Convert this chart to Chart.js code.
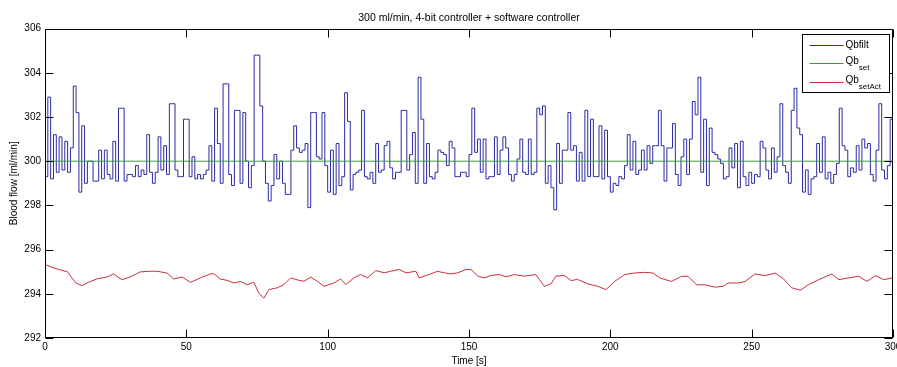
<!DOCTYPE html>
<html>
<head>
<meta charset="utf-8">
<script src="https://cdn.jsdelivr.net/npm/chart.js@4.4.1/dist/chart.umd.min.js"></script>
<style>
  html, body { margin: 0; padding: 0; background: #fff; overflow: hidden; }
</style>
</head>
<body>
<canvas id="canvas" width="908" height="367"></canvas>
<script>
  // Qbfilt, one sample per second (0..300 s)
  var qbfilt = [
    299.3, 302.9, 299.2, 301.2, 299.5, 301.1, 299.6, 300.9, 299.5, 300.6,
    303.4, 302.2, 298.6, 301.6, 299.0, 300.0, 300.0, 299.1, 299.1, 300.5,
    299.2, 300.5, 299.4, 299.2, 300.9, 299.1, 302.4, 302.4, 299.1, 299.4,
    299.4, 299.3, 299.8, 299.3, 299.6, 299.4, 301.2, 299.5, 299.0, 299.5,
    301.1, 299.6, 300.7, 299.4, 302.6, 302.6, 299.6, 299.3, 299.3, 301.9,
    301.9, 299.3, 300.2, 299.2, 299.4, 299.2, 299.4, 299.6, 300.7, 299.1,
    302.4, 300.8, 299.0, 303.5, 303.5, 299.4, 298.9, 302.3, 302.3, 299.0,
    302.2, 300.0, 298.8, 299.8, 304.8, 304.8, 302.5, 300.0, 299.0, 298.2,
    298.9, 300.3, 299.2, 300.0, 299.0, 298.5, 298.5, 300.5, 301.6, 300.6,
    300.4, 300.5, 300.8, 297.9, 302.2, 302.2, 300.2, 300.1, 302.2, 299.8,
    298.6, 300.5, 298.5, 300.8, 298.9, 299.3, 303.1, 301.8, 298.7, 299.4,
    299.5, 299.6, 302.3, 299.3, 299.2, 299.5, 299.0, 300.8, 299.5, 299.6,
    300.7, 300.9, 299.7, 299.2, 299.5, 299.5, 302.3, 302.3, 299.6, 300.3,
    301.3, 299.0, 303.8, 301.9, 299.0, 300.8, 299.3, 299.2, 299.5, 300.5,
    300.4, 300.3, 299.8, 300.9, 300.6, 299.3, 299.3, 299.5, 299.5, 299.3,
    300.3, 302.4, 300.4, 301.0, 299.5, 301.0, 299.2, 299.3, 299.3, 301.1,
    299.4, 300.5, 301.1, 300.6, 299.4, 299.1, 299.4, 300.1, 301.0, 299.5,
    299.4, 301.0, 299.4, 299.5, 302.4, 302.1, 302.5, 299.0, 299.8, 298.8,
    297.8, 300.8, 299.0, 300.5, 300.5, 302.2, 300.5, 300.7, 299.1, 300.4,
    299.1, 302.3, 299.3, 301.9, 299.3, 299.3, 301.6, 299.2, 301.4, 299.3,
    298.6, 299.0, 298.9, 299.3, 299.2, 299.8, 301.2, 299.6, 300.9, 299.4,
    299.6, 300.5, 299.6, 300.7, 299.9, 300.7, 300.7, 302.3, 300.7, 299.1,
    300.6, 300.6, 301.7, 299.4, 298.9, 300.2, 301.0, 299.4, 301.0, 302.7,
    302.1, 303.8, 299.5, 301.9, 298.9, 301.5, 300.4, 300.3, 300.1, 299.9,
    299.2, 299.3, 300.6, 299.7, 300.8, 298.8, 300.9, 299.3, 298.9, 299.5,
    299.0, 299.4, 299.3, 300.9, 300.6, 299.6, 299.2, 300.6, 299.5, 300.2,
    302.6, 299.8, 299.5, 299.0, 302.3, 303.3, 301.5, 301.2, 298.6, 299.6,
    298.5, 299.2, 299.3, 300.8, 299.5, 301.1, 299.2, 299.5, 299.0, 299.4,
    299.9, 302.4, 300.7, 300.5, 299.3, 299.7, 299.5, 300.7, 299.6, 301.0,
    300.6, 300.8, 299.4, 299.1, 300.5, 302.6, 299.6, 299.2, 299.8, 301.9,
    299.0
  ];

  // Qb_set
  var setTimes = [0, 300];
  var setValues = [300, 300];

  // Qb_setAct
  var actTimes = [
    0, 4, 8, 9.5, 11, 13, 15.4, 18.3, 21.9, 24.2, 27.2, 30.1, 33.7, 37.2, 39.6,
    43.2, 45.5, 48.5, 51.5, 55, 58.5, 59.7, 62, 64.4, 66.8, 69.2, 71.5, 73.9,
    75.6, 77.4, 79.2, 82.1, 84.5, 86.9, 89.8, 91.6, 94, 96.3, 98.7, 102.2,
    104.6, 106.4, 109.3, 111.7, 114.1, 117, 120, 122.3, 125.3, 127.7, 131.2,
    132.4, 134.1, 136.5, 138.8, 141.2, 143.6, 146, 148.9, 150.7, 153.1, 155.4,
    157.8, 160.7, 163.1, 166.1, 169.6, 173.7, 174.9, 176.7, 179, 180.8, 183.7,
    186.1, 188.4, 192, 195.5, 198.5, 201.5, 205.1, 208.6, 212.1, 215.1, 217.5,
    221.6, 225.2, 227.5, 230.5, 233.4, 237, 240, 241.7, 245.3, 247.7, 251.2,
    254.8, 258.3, 261.3, 264.2, 267.2, 270.1, 273.7, 278.4, 280.8, 284.3,
    287.9, 290.8, 293.8, 296.7, 300
  ];
  var actValues = [
    295.32, 295.13, 294.99, 294.72, 294.49, 294.37, 294.52, 294.67, 294.76, 294.90,
    294.64, 294.76, 294.99, 295.02, 295.02, 294.94, 294.67, 294.76, 294.52, 294.72,
    294.90, 294.91, 294.67, 294.61, 294.49, 294.56, 294.41, 294.52, 294.04, 293.80,
    294.19, 294.27, 294.41, 294.72, 294.61, 294.57, 294.75, 294.57, 294.34, 294.49,
    294.67, 294.42, 294.72, 294.87, 294.72, 295.05, 294.95, 295.02, 295.10, 294.95,
    295.02, 294.72, 294.80, 294.90, 295.02, 294.95, 294.90, 294.95, 295.10, 295.10,
    294.80, 294.72, 294.83, 294.87, 294.77, 294.87, 294.80, 294.87, 294.65, 294.34,
    294.45, 294.80, 294.83, 294.60, 294.65, 294.45, 294.34, 294.19, 294.56, 294.87,
    294.94, 294.97, 294.94, 294.72, 294.56, 294.79, 294.79, 294.41, 294.41, 294.30,
    294.34, 294.49, 294.49, 294.56, 294.90, 294.82, 294.94, 294.67, 294.27, 294.16,
    294.41, 294.64, 294.90, 294.64, 294.72, 294.79, 294.56, 294.82, 294.64, 294.72
  ];

  var seriesNames = ['Qbfilt', 'Qb', 'Qb'];
  var seriesSubs = ['', 'set', 'setAct'];
  var yTicks = [292, 294, 296, 298, 300, 302, 304, 306];

  const FONT = 'Arial, "Liberation Sans", Helvetica, sans-serif';
  const tickLen = 8;

  function pairs(xs, ys) {
    return ys.map(function(v, i) { return {x: xs[i], y: v}; });
  }

  // box round the axes + inward ticks on all four sides
  const matlabAxes = {
    id: 'matlabAxes',
    afterDatasetsDraw(chart) {
      const c = chart.ctx, a = chart.chartArea;
      const xs = chart.scales.x, ys = chart.scales.y;
      const L = Math.round(a.left) + 0.5, R = Math.round(a.right) - 0.5;
      const T = Math.round(a.top) + 0.5, B = Math.round(a.bottom) - 0.5;
      c.save();
      c.strokeStyle = '#000';
      c.lineWidth = 1;
      c.beginPath();
      c.rect(L, T, R - L, B - T);
      xs.ticks.forEach(function(t) {
        const px = Math.round(xs.getPixelForValue(t.value)) + 0.5;
        c.moveTo(px, B); c.lineTo(px, B - tickLen);
        c.moveTo(px, T); c.lineTo(px, T + tickLen);
      });
      ys.ticks.forEach(function(t) {
        const py = Math.round(ys.getPixelForValue(t.value)) + 0.5;
        c.moveTo(L, py); c.lineTo(L + tickLen, py);
        c.moveTo(R, py); c.lineTo(R - tickLen, py);
      });
      c.stroke();
      c.restore();
    }
  };

  // legend with subscripts
  const legendBox = {
    id: 'legendBox',
    afterDraw(chart) {
      const c = chart.ctx, a = chart.chartArea;
      const w = 87, h = 58;
      const x0 = Math.round(a.right) - 4 - w + 0.5;
      const y0 = Math.round(a.top) + 5 + 0.5;
      c.save();
      c.fillStyle = '#fff';
      c.fillRect(x0, y0, w, h);
      c.strokeStyle = '#000';
      c.lineWidth = 1;
      c.strokeRect(x0, y0, w, h);
      chart.data.datasets.forEach(function(ds, i) {
        const ly = Math.round(y0 + 10 + i * 18.5) + 0.5;
        c.strokeStyle = ds.borderColor;
        c.beginPath();
        c.moveTo(x0 + 7, ly);
        c.lineTo(x0 + 41, ly);
        c.stroke();
        c.fillStyle = '#000';
        c.textBaseline = 'middle';
        c.textAlign = 'left';
        c.font = '10px ' + FONT;
        const sub = seriesSubs[i];
        const ty = sub ? ly - 2 : ly;
        c.fillText(seriesNames[i], x0 + 43, ty);
        if (sub) {
          const nw = c.measureText(seriesNames[i]).width;
          c.font = '8px ' + FONT;
          c.fillText(sub, x0 + 43 + nw, ly + 4);
        }
      });
      c.restore();
    }
  };

  const data = {
    datasets: [
      {
        label: 'Qbfilt',
        data: qbfilt.map(function(v, i) { return {x: i, y: v}; }),
        borderColor: '#2b2ba3',
        borderWidth: 1,
        stepped: true,
        order: 3
      },
      {
        label: 'Qb_set',
        data: pairs(setTimes, setValues),
        borderColor: '#3d9a3d',
        borderWidth: 1,
        order: 2
      },
      {
        label: 'Qb_setAct',
        data: pairs(actTimes, actValues),
        borderColor: '#c8303e',
        borderWidth: 1,
        order: 1
      }
    ]
  };

  const options = {
    responsive: false,
    animation: false,
    layout: { padding: { left: 0, right: 15, top: 0, bottom: 0 } },
    elements: { point: { radius: 0, hoverRadius: 0 }, line: { tension: 0 } },
    plugins: {
      legend: { display: false },
      tooltip: { enabled: false },
      title: {
        display: true,
        text: '300 ml/min, 4-bit controller + software controller',
        color: '#000',
        fullSize: false,
        font: { family: FONT, size: 10.5, weight: 'normal' },
        padding: { top: 12, bottom: 4 }
      }
    },
    scales: {
      x: {
        type: 'linear',
        min: 0,
        max: 300,
        ticks: { stepSize: 50, color: '#000', padding: 3, font: { family: FONT, size: 10 } },
        grid: { display: false, drawTicks: false },
        border: { display: false },
        title: { display: true, text: 'Time [s]', color: '#000', font: { family: FONT, size: 10 }, padding: { top: 0, bottom: 0 } },
        afterFit: function(scale) { scale.height = 29; }
      },
      y: {
        min: yTicks[0],
        max: yTicks[yTicks.length - 1],
        afterBuildTicks: function(scale) {
          scale.ticks = yTicks.map(function(v) { return {value: v}; });
        },
        ticks: { color: '#000', padding: 4, font: { family: FONT, size: 10 } },
        grid: { display: false, drawTicks: false },
        border: { display: false },
        title: { display: true, text: 'Blood flow [ml/min]', color: '#000', font: { family: FONT, size: 10 }, padding: { top: 8, bottom: 0 } },
        afterFit: function(scale) { scale.width = 45; }
      }
    }
  };

  const config = {
    type: 'line',
    data: data,
    options: options,
    plugins: [matlabAxes, legendBox]
  };

  var chart;
  function init() {
    const ctx = document.getElementById('canvas').getContext('2d');
    chart = new Chart(ctx, config);
  }
  init();
</script>
</body>
</html>
